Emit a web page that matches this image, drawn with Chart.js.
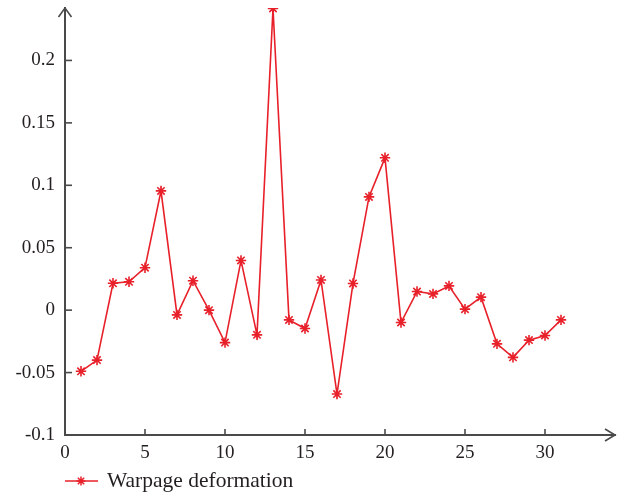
<!DOCTYPE html>
<html>
<head>
<meta charset="utf-8">
<script src="https://cdn.jsdelivr.net/npm/chart.js@4/dist/chart.umd.min.js"></script>
<style>
  html, body { margin: 0; padding: 0; background: #fff; }
  #wrap { width: 623px; height: 493px; }
</style>
</head>
<body>
<div id="wrap"><canvas id="warpChart" width="623" height="493"></canvas></div>
<script>
// sample number on x, warpage on y
const samples = [1, 2, 3, 4, 5, 6, 7, 8, 9, 10, 11, 12, 13, 14, 15, 16,
  17, 18, 19, 20, 21, 22, 23, 24, 25, 26, 27, 28, 29, 30, 31];
const warpage = [-0.049, -0.040, 0.0215, 0.0227, 0.034, 0.0955, -0.0038, 0.0236, 0.0, -0.026,
  0.0398, -0.0198, 0.2416, -0.0078, -0.0147, 0.0242, -0.0672, 0.0214, 0.0907, 0.1220,
  -0.0099, 0.0149, 0.0130, 0.0194, 0.0008, 0.0104, -0.0270, -0.0378, -0.0240, -0.0203, -0.0078];
const xTicks = [0, 5, 10, 15, 20, 25, 30];
const yTicks = [-0.1, -0.05, 0, 0.05, 0.1, 0.15, 0.2];
const seriesName = 'Warpage deformation';

const red = '#e8202a';
const axisColor = '#4a4a4a';
const textColor = '#231f20';
const fontFamily = '"Liberation Serif", "DejaVu Serif", serif';

const points = samples.map((s, i) => ({ x: s, y: warpage[i] }));

// arrows, inward tick marks and the legend
const axisDecor = {
  id: 'axisDecor',
  afterDraw(chart) {
    const c = chart.ctx;
    const area = chart.chartArea;
    const xs = chart.scales.x;
    const ys = chart.scales.y;
    c.save();
    c.strokeStyle = axisColor;
    c.lineWidth = 1.6;

    // tick marks pointing into the plot
    xTicks.forEach(v => {
      const px = xs.getPixelForValue(v);
      c.beginPath();
      c.moveTo(px, area.bottom);
      c.lineTo(px, area.bottom - 6);
      c.stroke();
    });
    yTicks.forEach(v => {
      const py = ys.getPixelForValue(v);
      c.beginPath();
      c.moveTo(area.left, py);
      c.lineTo(area.left + 7, py);
      c.stroke();
    });

    // arrow heads
    c.beginPath();
    c.moveTo(area.left - 6.5, area.top + 9);
    c.lineTo(area.left, area.top);
    c.lineTo(area.left + 6.5, area.top + 9);
    c.stroke();
    c.beginPath();
    c.moveTo(area.right - 10, area.bottom - 6);
    c.lineTo(area.right, area.bottom);
    c.lineTo(area.right - 10, area.bottom + 6);
    c.stroke();

    // legend
    const ly = 481;
    c.strokeStyle = red;
    c.lineWidth = 1.5;
    c.beginPath();
    c.moveTo(65, ly);
    c.lineTo(98, ly);
    c.stroke();
    Chart.helpers.drawPoint(c, { pointStyle: 'star', radius: 4.5, borderWidth: 1.5 }, 81, ly);
    c.fillStyle = textColor;
    c.font = '21.5px ' + fontFamily;
    c.textAlign = 'left';
    c.textBaseline = 'middle';
    c.fillText(seriesName, 107, ly);
    c.restore();
  }
};

function noEdgePadding(scale) {
  scale.paddingTop = 0;
  scale.paddingBottom = 0;
}

const ctx = document.getElementById('warpChart').getContext('2d');

const warpChart = new Chart(ctx, {
  type: 'line',
  data: {
    datasets: [{
      label: seriesName,
      data: points,
      borderColor: red,
      backgroundColor: red,
      borderWidth: 1.6,
      pointStyle: 'star',
      pointRadius: 5.2,
      pointBorderWidth: 1.6,
      pointBorderColor: red,
      tension: 0,
      fill: false
    }]
  },
  options: {
    responsive: false,
    animation: false,
    layout: { padding: { top: 8, right: 8, left: 0, bottom: 0 } },
    plugins: {
      legend: { display: false },
      tooltip: { enabled: false }
    },
    scales: {
      x: {
        type: 'linear',
        min: 0,
        max: 34.375,
        afterFit(scale) { scale.height = 58; scale.paddingRight = 0; },
        afterBuildTicks(scale) { scale.ticks = xTicks.map(v => ({ value: v })); },
        grid: { display: true, drawOnChartArea: false, drawTicks: false },
        border: { display: true, color: axisColor, width: 2 },
        ticks: {
          padding: 7,
          color: textColor,
          font: { family: fontFamily, size: 19 },
          maxRotation: 0
        }
      },
      y: {
        type: 'linear',
        min: -0.1,
        max: 0.242,
        afterFit(scale) { scale.width = 65; noEdgePadding(scale); },
        afterBuildTicks(scale) { scale.ticks = yTicks.map(v => ({ value: v })); },
        grid: { display: true, drawOnChartArea: false, drawTicks: false },
        border: { display: true, color: axisColor, width: 2 },
        ticks: {
          padding: 10,
          color: textColor,
          font: { family: fontFamily, size: 19 },
          callback: v => String(Math.round(v * 100) / 100)
        }
      }
    }
  },
  plugins: [axisDecor]
});
</script>
</body>
</html>
